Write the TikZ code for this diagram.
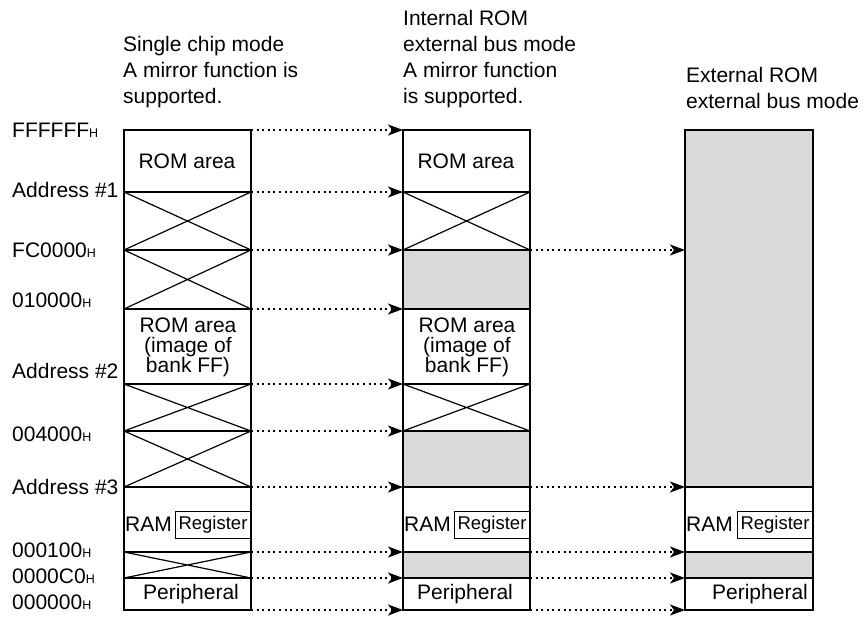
\documentclass[tikz,border=0pt]{standalone}
\usepackage{fontspec}
\setmainfont{Liberation Sans}
\usetikzlibrary{arrows.meta}
\definecolor{areagray}{RGB}{217,217,217}
\newcommand{\hx}[1]{#1{\fontsize{12.5}{12.5}\selectfont H}}
\begin{document}
\begin{tikzpicture}[x=1pt,y=-1pt,
  lbl/.style={anchor=west,inner sep=0pt,font=\fontsize{21}{24}\selectfont},
  ttl/.style={anchor=north west,inner sep=0pt,align=left,font=\fontsize{21}{26}\selectfont},
  cell/.style={inner sep=0pt,align=center,font=\fontsize{21}{20}\selectfont},
  regbox/.style={draw,line width=1pt,inner sep=0pt,minimum width=75pt,minimum height=27pt,font=\fontsize{18.5}{18.5}\selectfont,anchor=north east},
  outer/.style={line width=2.8pt},
  thinline/.style={line width=1.2pt},
  maparrow/.style={line width=1.7pt,dash pattern=on 2pt off 3.6pt,-{Stealth[length=15pt,width=11pt,inset=4pt]}},
  shade/.style={fill=areagray}
]
\useasboundingbox (0,0) rectangle (864,616);

% ---------- titles ----------
\node[ttl] (t1) at (123,36) {Single chip mode\\A mirror function is\\supported.};
\node[ttl] (t2) at (403,10) {Internal ROM\\external bus mode\\A mirror function\\is supported.};
\node[ttl] (t3) at (686,67) {External ROM\\external bus mode};

% ---------- address labels ----------
\node[lbl] (lFF) at (12,130) {\hx{FFFFFF}};
\node[lbl] (lA1) at (12,190) {Address \#1};
\node[lbl] (lFC) at (12,250) {\hx{FC0000}};
\node[lbl] (l01) at (12,300) {\hx{010000}};
\node[lbl] (lA2) at (12,371) {Address \#2};
\node[lbl] (l04) at (12,434) {\hx{004000}};
\node[lbl] (lA3) at (12,487) {Address \#3};
\node[lbl] (l100) at (12,550) {\hx{000100}};
\node[lbl] (lC0) at (12,576) {\hx{0000C0}};
\node[lbl] (l00) at (12,602) {\hx{000000}};

% ---------- column 1 ----------
\foreach \ya/\yb in {192/250,250/309,384/431,431/487,552/578}
  \draw[thinline] (124,\ya) -- (251,\yb) (124,\yb) -- (251,\ya);
\foreach \y in {192,250,309,384,431,487,552,578}
  \draw[thinline] (124,\y) -- (251,\y);
\draw[outer] (124,130) rectangle (251,610);

% ---------- column 2 ----------
\foreach \ya/\yb in {250/309,431/487,552/578}
  \fill[shade] (404,\ya) rectangle (529,\yb);
\foreach \ya/\yb in {192/250,384/431}
  \draw[thinline] (403,\ya) -- (530,\yb) (403,\yb) -- (530,\ya);
\foreach \y in {192,250,309,384,431,487,552,578}
  \draw[thinline] (403,\y) -- (530,\y);
\draw[outer] (403,130) rectangle (530,610);

% ---------- column 3 ----------
\fill[shade] (685,130) rectangle (813,487);
\fill[shade] (685,552) rectangle (813,578);
\foreach \y in {487,552,578}
  \draw[thinline] (685,\y) -- (813,\y);
\draw[outer] (685,130) rectangle (813,610);

% ---------- cell texts ----------
\node[cell] (rom1) at (187,161) {ROM area};
\node[cell] (rom2) at (466,161) {ROM area};
\node[cell] (img1) at (188,347) {ROM area\\(image of\\bank FF)};
\node[cell] (img2) at (467,347) {ROM area\\(image of\\bank FF)};
\node[cell,anchor=west] (ram1) at (125,524) {RAM};
\node[cell,anchor=west] (ram2) at (404,524) {RAM};
\node[cell,anchor=west] (ram3) at (686,524) {RAM};
\node[regbox] (reg1) at (251,511) {Register};
\node[regbox] (reg2) at (530,511) {Register};
\node[regbox] (reg3) at (813,511) {Register};
\node[cell] (per1) at (191,594) {Peripheral};
\node[cell] (per2) at (465,594) {Peripheral};
\node[cell] (per3) at (760,594) {Peripheral};

% ---------- connection points ----------
\foreach \n/\y in {top/130,a1/192,fc/250,o1/309,a2/384,o4/431,a3/487,h1/552,c0/578,bot/610}{
  \coordinate (A\n) at (251,\y);
  \coordinate (B\n) at (403,\y);
  \coordinate (C\n) at (530,\y);
  \coordinate (D\n) at (685,\y);
}
\foreach \n in {top,a1,fc,o1,a2,o4,a3,h1,c0,bot}
  \draw[maparrow] (A\n) -- (B\n);
\foreach \n in {fc,a3,h1,c0,bot}
  \draw[maparrow] (C\n) -- (D\n);
\end{tikzpicture}
\end{document}
